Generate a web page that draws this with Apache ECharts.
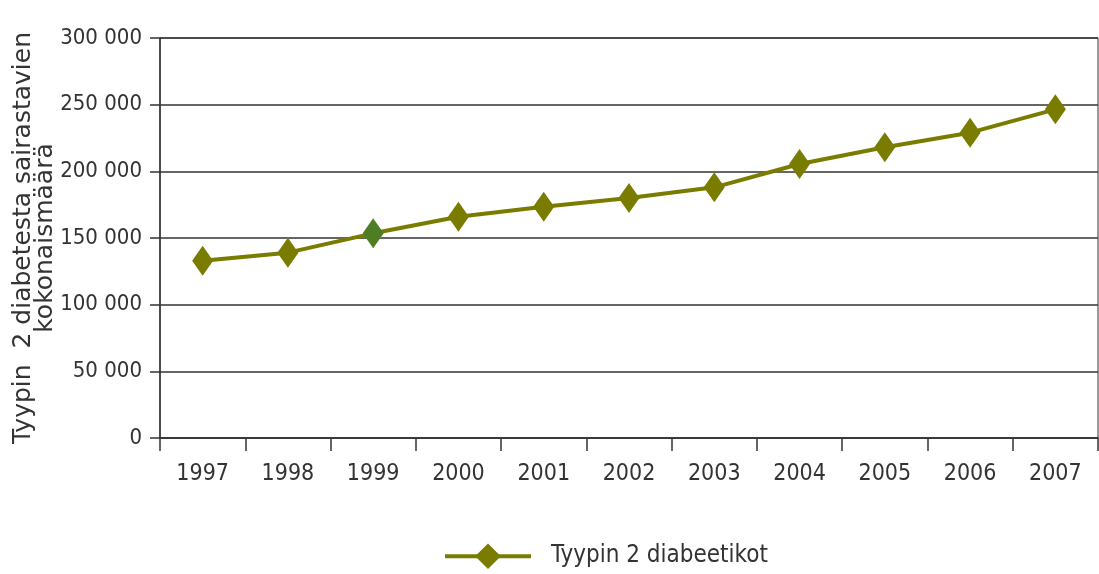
<!DOCTYPE html>
<html>
<head>
<meta charset="utf-8">
<script src="https://cdn.jsdelivr.net/npm/echarts@6/dist/echarts.min.js"></script>
<style>
  html, body { margin: 0; padding: 0; background: #fff; }
  #chart { width: 1099px; height: 574px; }
</style>
</head>
<body>
<div id="chart"></div>
<script>
// Type 2 diabetes patients in Finland, 1997–2007
const years = ['1997', '1998', '1999', '2000', '2001', '2002', '2003', '2004', '2005', '2006', '2007'];
const patients = [133000, 139000, 153500, 166000, 173500, 180000, 188000, 205500, 218000, 229000, 246500];
const seriesName = 'Tyypin 2 diabeetikot';
const yTitle = 'Tyypin  2 diabetesta sairastavien\nkokonaismäärä';
const yMin = 0, yMax = 300000, yStep = 50000;

const olive = '#7a7c00';
const highlight = '#4e7d24';
const ink = '#333';
const narrow = '"Liberation Sans Narrow", "DejaVu Sans Condensed", sans-serif';

const chart = echarts.init(document.getElementById('chart'));
chart.setOption({
  animation: false,
  backgroundColor: '#fff',
  grid: {
    left: 160, right: 1, top: 38, bottom: 136,
    outerBoundsMode: 'none',
    containLabel: false,
    show: true, borderColor: ink, borderWidth: 1
  },
  legend: {
    bottom: 0,
    left: 438,
    itemWidth: 86,
    itemHeight: 32,
    itemGap: 20,
    lineStyle: { width: 4 },
    textStyle: { fontFamily: narrow, fontSize: 24, color: ink, padding: [0, 0, 0, 15] },
    data: [{ name: seriesName }]
  },
  xAxis: {
    type: 'category',
    data: years,
    boundaryGap: true,
    axisLine: { lineStyle: { color: ink, width: 1.5 } },
    axisTick: { show: true, length: 13, lineStyle: { color: ink, width: 1.5 } },
    axisLabel: { fontFamily: narrow, fontSize: 23, color: ink, margin: 25 }
  },
  yAxis: {
    type: 'value',
    min: yMin, max: yMax, interval: yStep,
    name: yTitle,
    nameLocation: 'middle',
    nameGap: 104,
    nameMoveOverlap: false,
    nameTextStyle: { fontFamily: 'DejaVu Sans, sans-serif', fontSize: 25, color: ink, lineHeight: 22 },
    axisLine: { show: true, lineStyle: { color: ink, width: 1.5 } },
    axisTick: { show: true, length: 10, lineStyle: { color: ink, width: 1.5 } },
    axisLabel: {
      fontFamily: narrow, fontSize: 22, color: ink, margin: 18,
      formatter: v => v === 0 ? '0' : String(v).replace(/\B(?=(\d{3})+(?!\d))/g, ' ')
    },
    splitLine: { show: true, lineStyle: { color: ink, width: 1.5 } }
  },
  series: [{
    name: seriesName,
    type: 'line',
    data: patients.map((v, i) => i === 2
      ? { value: v, itemStyle: { color: highlight } }
      : v),
    symbol: 'diamond',
    symbolSize: [21, 30],
    lineStyle: { color: olive, width: 4 },
    itemStyle: { color: olive },
    z: 5
  }]
});
</script>
</body>
</html>
